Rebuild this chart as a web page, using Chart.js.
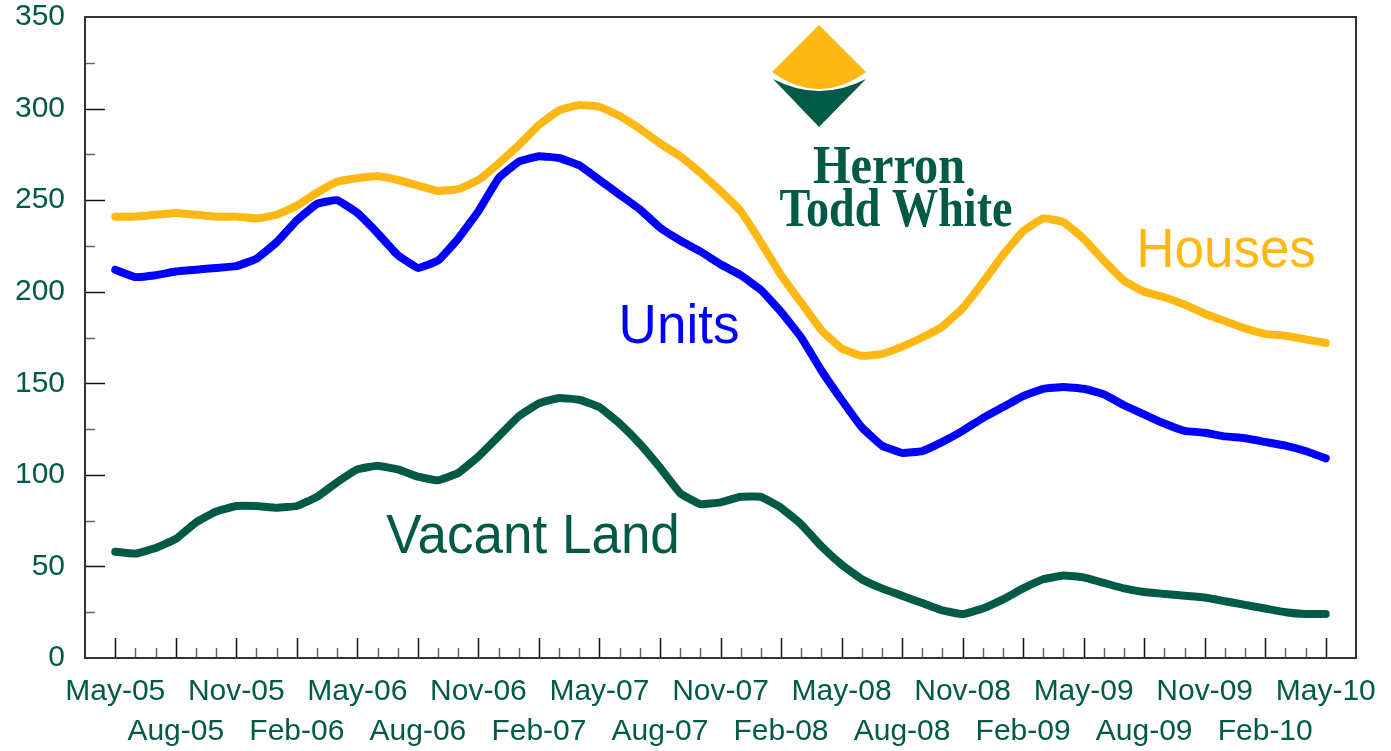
<!DOCTYPE html>
<html>
<head>
<meta charset="utf-8">
<script src="https://cdn.jsdelivr.net/npm/chart.js@4"></script>
<style>
	body { margin: 0; background: #fff; }
	#wrap { width: 1391px; height: 751px; }
</style>
</head>
<body>
<div id="wrap"><canvas id="myChart" width="1391" height="751"></canvas></div>
<script>
var months = ["May-05", "Jun-05", "Jul-05", "Aug-05", "Sep-05", "Oct-05", "Nov-05", "Dec-05", "Jan-06", "Feb-06",
	"Mar-06", "Apr-06", "May-06", "Jun-06", "Jul-06", "Aug-06", "Sep-06", "Oct-06", "Nov-06", "Dec-06",
	"Jan-07", "Feb-07", "Mar-07", "Apr-07", "May-07", "Jun-07", "Jul-07", "Aug-07", "Sep-07", "Oct-07",
	"Nov-07", "Dec-07", "Jan-08", "Feb-08", "Mar-08", "Apr-08", "May-08", "Jun-08", "Jul-08", "Aug-08",
	"Sep-08", "Oct-08", "Nov-08", "Dec-08", "Jan-09", "Feb-09", "Mar-09", "Apr-09", "May-09", "Jun-09",
	"Jul-09", "Aug-09", "Sep-09", "Oct-09", "Nov-09", "Dec-09", "Jan-10", "Feb-10", "Mar-10", "Apr-10", "May-10"];

var houses = [241, 241, 242, 243, 242, 241, 241, 240, 242, 247,
	254, 260, 262, 263, 261, 258, 255, 256, 261, 270,
	280, 291, 299, 302, 301, 296, 289, 281, 274, 265,
	255, 244, 227, 209, 194, 179, 169, 165, 166, 170,
	175, 181, 191, 205, 220, 233, 240, 238, 229, 217,
	206, 200, 197, 193, 188, 184, 180, 177, 176, 174, 172];

var units = [212, 208, 209, 211, 212, 213, 214, 218, 227, 239,
	248, 250, 243, 232, 220, 213, 217, 229, 244, 262,
	271, 274, 273, 269, 261, 253, 245, 235, 228, 222,
	215, 209, 201, 189, 175, 157, 141, 126, 116, 112,
	113, 118, 124, 131, 137, 143, 147, 148, 147, 144,
	138, 133, 128, 124, 123, 121, 120, 118, 116, 113, 109];

var vacantLand = [58, 57, 60, 65, 74, 80, 83, 83, 82, 83,
	88, 96, 103, 105, 103, 99, 97, 101, 110, 121,
	132, 139, 142, 141, 137, 128, 117, 104, 90, 84,
	85, 88, 88, 82, 73, 61, 51, 43, 38, 34,
	30, 26, 24, 27, 32, 38, 43, 45, 44, 41,
	38, 36, 35, 34, 33, 31, 29, 27, 25, 24, 24];

var yTicks = [0, 50, 100, 150, 200, 250, 300, 350];

var GREEN = '#005a46';
var GOLD = '#fdb813';
var BLUE = '#0000ff';
var FONT = '"Liberation Sans", Arial, sans-serif';

function toPoints(values) {
	return values.map(function (v, i) { return { x: i, y: v }; });
}

function drawText(ctx, text, x, y, color, font) {
	ctx.save();
	ctx.fillStyle = color;
	ctx.font = font;
	ctx.textAlign = 'center';
	ctx.textBaseline = 'alphabetic';
	ctx.translate(x, y);
	ctx.scale(1, 1.05);
	ctx.fillText(text, 0, 0);
	ctx.restore();
}

// box and inward tick marks, drawn under the lines
var frame = {
	id: 'frame',
	beforeDatasetsDraw: function (chart) {
		var ctx = chart.ctx, a = chart.chartArea;
		var xs = chart.scales.x, ys = chart.scales.y;
		ctx.save();
		months.forEach(function (m, i) {
			var px = Math.round(xs.getPixelForValue(i)) + 0.5;
			var len = (i % 3 === 0) ? 20 : 10;
			ctx.strokeStyle = (i % 3 === 0) ? '#111' : '#666';
			ctx.lineWidth = 1.5;
			ctx.beginPath();
			ctx.moveTo(px, a.bottom);
			ctx.lineTo(px, a.bottom - len);
			ctx.stroke();
		});
		for (var v = 25; v < 350; v += 25) {
			var py = Math.round(ys.getPixelForValue(v)) + 0.5;
			ctx.strokeStyle = (v % 50 === 0) ? '#111' : '#666';
			ctx.lineWidth = 1.5;
			ctx.beginPath();
			ctx.moveTo(a.left, py);
			ctx.lineTo(a.left + ((v % 50 === 0) ? 20 : 10), py);
			ctx.stroke();
		}
		ctx.strokeStyle = '#333';
		ctx.lineWidth = 2;
		ctx.strokeRect(a.left, a.top, a.right - a.left, a.bottom - a.top);
		ctx.restore();
	}
};

// series names and the logo
var labels = {
	id: 'labels',
	afterDatasetsDraw: function (chart) {
		var ctx = chart.ctx;
		drawText(ctx, 'Houses', 1226, 267, GOLD, '53px ' + FONT);
		drawText(ctx, 'Units', 679, 343, BLUE, '53px ' + FONT);
		drawText(ctx, 'Vacant Land', 533, 553, GREEN, '53px ' + FONT);

		ctx.save();
		ctx.fillStyle = GREEN;
		ctx.beginPath();
		ctx.moveTo(773, 79);
		ctx.quadraticCurveTo(819, 103, 866, 79);
		ctx.lineTo(819, 127);
		ctx.closePath();
		ctx.fill();
		ctx.fillStyle = GOLD;
		ctx.beginPath();
		ctx.moveTo(819, 25);
		ctx.lineTo(866, 72);
		ctx.quadraticCurveTo(819, 106, 772, 72);
		ctx.closePath();
		ctx.fill();

		ctx.fillStyle = GREEN;
		ctx.font = 'bold 54px "Liberation Serif", "Times New Roman", serif';
		ctx.textAlign = 'center';
		ctx.fillText('Herron', 889, 183, 152);
		ctx.fillText('Todd White', 896, 226, 233);
		ctx.restore();
	}
};

var el = document.getElementById('myChart');
var myChart = new Chart(el, {
	type: 'line',
	data: {
		datasets: [
			{ label: 'Houses', data: toPoints(houses), borderColor: GOLD },
			{ label: 'Units', data: toPoints(units), borderColor: BLUE },
			{ label: 'Vacant Land', data: toPoints(vacantLand), borderColor: GREEN }
		]
	},
	options: {
		responsive: false,
		devicePixelRatio: 1,
		animation: false,
		layout: { padding: { top: 17, right: 35, left: 0, bottom: 0 } },
		elements: {
			line: { borderWidth: 8, tension: 0.1, borderCapStyle: 'round', borderJoinStyle: 'round', fill: false },
			point: { radius: 0, hoverRadius: 0 }
		},
		plugins: {
			legend: { display: false },
			tooltip: { enabled: false }
		},
		scales: {
			x: {
				type: 'linear',
				min: -1.5,
				max: 61.5,
				afterBuildTicks: function (scale) {
					scale.ticks = months.map(function (m, i) { return { value: i }; });
				},
				afterFit: function (scale) {
					scale.height = 93;
					scale.paddingLeft = 0;
					scale.paddingRight = 0;
				},
				grid: { display: false, drawTicks: false },
				border: { display: false },
				ticks: {
					autoSkip: false,
					maxRotation: 0,
					minRotation: 0,
					padding: 14,
					color: GREEN,
					font: { family: FONT, size: 30, lineHeight: 1.333 },
					callback: function (value) {
						var i = Math.round(value);
						if (i % 6 === 0) return [months[i], ''];
						if (i % 3 === 0) return ['', months[i]];
						return '';
					}
				}
			},
			y: {
				min: 0,
				max: 350,
				afterBuildTicks: function (scale) {
					scale.ticks = yTicks.map(function (v) { return { value: v }; });
				},
				afterFit: function (scale) {
					scale.width = 85;
					scale.paddingTop = 0;
					scale.paddingBottom = 0;
				},
				grid: { display: false, drawTicks: false },
				border: { display: false },
				ticks: {
					padding: 20,
					color: GREEN,
					font: { family: FONT, size: 30 }
				}
			}
		}
	},
	plugins: [frame, labels]
});
</script>
</body>
</html>
